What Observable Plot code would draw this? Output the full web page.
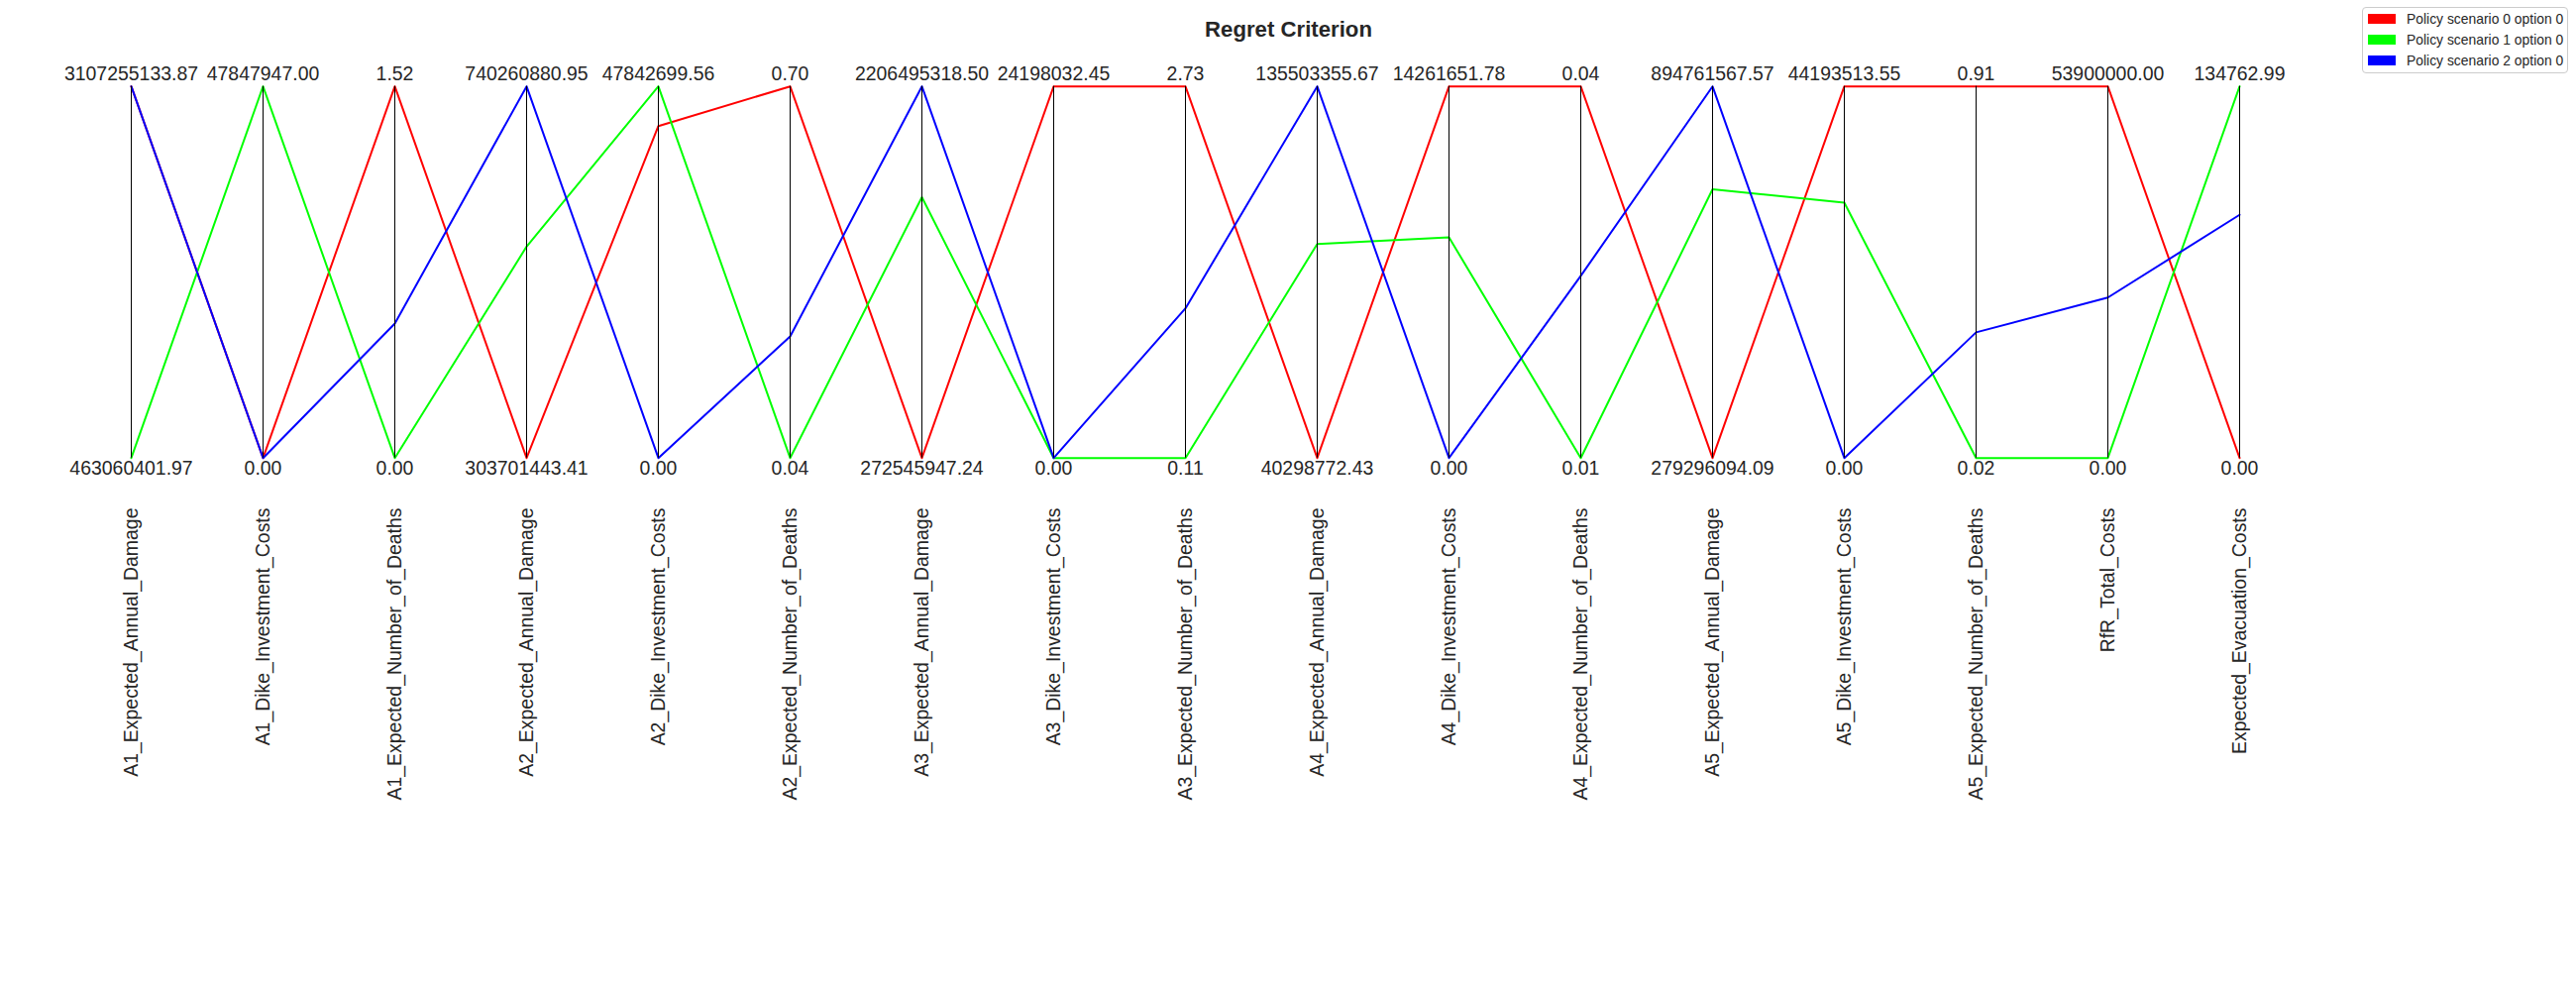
<!DOCTYPE html>
<html>
<head>
<meta charset="utf-8">
<script src="https://cdn.jsdelivr.net/npm/d3@7"></script>
<script src="https://cdn.jsdelivr.net/npm/@observablehq/plot@0.6"></script>
<style>
  body { margin: 0; background: #fff; font-family: "Liberation Sans", Arial, sans-serif; }
  #wrap { position: relative; width: 2600px; height: 1000px; }
  #legend { position: absolute; left: 2384px; top: 7px; width: 206px; height: 65px;
            border: 1px solid #cccccc; border-radius: 4px; background: rgba(255,255,255,0.8); }
  .row { position: absolute; left: 5px; height: 20.8px; display: flex; align-items: center;
         font-size: 13.9px; color: #262626; white-space: nowrap; }
  .sw { width: 28px; height: 10px; margin-right: 11px; }
</style>
</head>
<body>
<div id="wrap"></div>
<script>
// ---- data ----
const axes = [
  "A1_Expected_Annual_Damage", "A1_Dike_Investment_Costs", "A1_Expected_Number_of_Deaths",
  "A2_Expected_Annual_Damage", "A2_Dike_Investment_Costs", "A2_Expected_Number_of_Deaths",
  "A3_Expected_Annual_Damage", "A3_Dike_Investment_Costs", "A3_Expected_Number_of_Deaths",
  "A4_Expected_Annual_Damage", "A4_Dike_Investment_Costs", "A4_Expected_Number_of_Deaths",
  "A5_Expected_Annual_Damage", "A5_Dike_Investment_Costs", "A5_Expected_Number_of_Deaths",
  "RfR_Total_Costs", "Expected_Evacuation_Costs"
];
const seriesNames = ["Policy scenario 0 option 0", "Policy scenario 1 option 0", "Policy scenario 2 option 0"];
const seriesColors = ["#ff0000", "#00ff00", "#0000ff"];

const scenario0 = [3107255133.87, 0, 1.52, 303701443.41, 42740000, 0.70, 272545947.24, 24198032.45, 2.73,
                   40298772.43, 14261651.78, 0.04, 279296094.09, 44193513.55, 0.91, 53900000.00, 0];
const scenario1 = [463060401.97, 47847947.00, 0, 552100000, 47842699.56, 0.04, 1630200000, 0, 0.11,
                   95140000, 8470000, 0.01, 724300000, 30360000, 0.02, 0, 134762.99];
const scenario2 = [3107255133.87, 0, 0.55, 740260880.95, 0, 0.256, 2206495318.50, 0, 1.165,
                   135503355.67, 0, 0.0247, 894761567.57, 0, 0.321, 23280000, 88200];
const scenarios = [scenario0, scenario1, scenario2];

// ---- per-axis ranges (from data) ----
const axisMin = axes.map((_, i) => d3.min(scenarios, s => s[i]));
const axisMax = axes.map((_, i) => d3.max(scenarios, s => s[i]));

const rows = [];
scenarios.forEach((s, k) => {
  axes.forEach((a, i) => {
    rows.push({axis: a, series: seriesNames[k], color: seriesColors[k], value: s[i],
               norm: (s[i] - axisMin[i]) / (axisMax[i] - axisMin[i])});
  });
});

const font = "'Liberation Sans', Arial, sans-serif";
const txt = "#262626";

const chart = Plot.plot({
  width: 2600,
  height: 1000,
  margin: 0,
  style: {fontFamily: font, background: "white"},
  x: {type: "point", domain: axes, range: [130.7, 2261.1], padding: 0, axis: null},
  y: {domain: [0, 1], range: [461.7, 86.7], axis: null},
  color: {type: "identity"},
  marks: [
    Plot.line(rows, {x: "axis", y: "norm", z: "series", stroke: "color", strokeWidth: 2}),
    Plot.ruleX(axes, {x: d => d, y1: 0, y2: 1, stroke: "#000", strokeWidth: 1}),
    Plot.text(axes, {x: d => d, y: 1, text: (d, i) => axisMax[i].toFixed(2),
                     lineAnchor: "bottom", dy: -6.7, fontSize: 19.44, fill: txt}),
    Plot.text(axes, {x: d => d, y: 0, text: (d, i) => axisMin[i].toFixed(2),
                     lineAnchor: "top", dy: 3.3, fontSize: 19.44, fill: txt}),
    Plot.text(axes, {x: d => d, y: 0, text: d => d, rotate: -90, textAnchor: "end",
                     lineAnchor: "middle", dy: 50.3, fontSize: 19.44, fill: txt}),
    Plot.text(["Regret Criterion"], {frameAnchor: "top", text: d => d, lineAnchor: "bottom",
                     dy: 36.5, fontSize: 22.2, fontWeight: "bold", fill: txt})
  ]
});

const wrap = document.getElementById("wrap");
wrap.appendChild(chart);

// ---- legend ----
const legend = document.createElement("div");
legend.id = "legend";
seriesNames.forEach((name, k) => {
  const r = document.createElement("div");
  r.className = "row";
  r.style.top = (0.6 + k * 20.8) + "px";
  const sw = document.createElement("span");
  sw.className = "sw";
  sw.style.background = seriesColors[k];
  const t = document.createElement("span");
  t.textContent = name;
  r.appendChild(sw);
  r.appendChild(t);
  legend.appendChild(r);
});
wrap.appendChild(legend);
chart.style.position = "absolute";
chart.style.left = "0px";
chart.style.top = "0px";
</script>
</body>
</html>
